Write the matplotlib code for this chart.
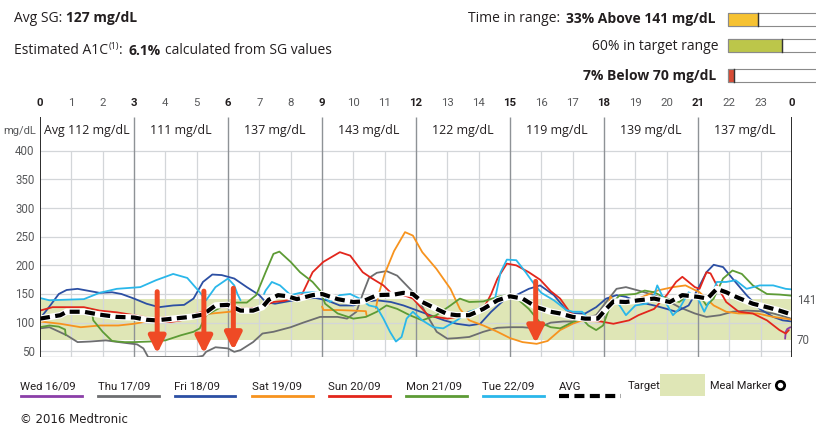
import numpy as np
import matplotlib
matplotlib.use("Agg")
import matplotlib.pyplot as plt
from matplotlib import font_manager as fm
from matplotlib.patches import Rectangle
from matplotlib.lines import Line2D

nan = np.nan

# ---------------- data ----------------
HOUR_LABELS = ["0", "1", "2", "3", "4", "5", "6", "7", "8", "9", "10", "11", "12",
               "13", "14", "15", "16", "17", "18", "19", "20", "21", "22", "23", "0"]
Y_TICKS = [50, 100, 150, 200, 250, 300, 350, 400]
BLOCK_LABELS = ["Avg 112 mg/dL", "111 mg/dL", "137 mg/dL", "143 mg/dL",
                "122 mg/dL", "119 mg/dL", "139 mg/dL", "137 mg/dL"]
TARGET_LOW, TARGET_HIGH = 70, 141

DAY_NAMES = ["Wed 16/09", "Thu 17/09", "Fri 18/09", "Sat 19/09",
             "Sun 20/09", "Mon 21/09", "Tue 22/09"]
DAY_COLORS = ["#8b3fa8", "#6d6e70", "#2c4fa3", "#f7931e", "#e2261c", "#5d9b35", "#2ab7ea"]

WED_H = [23.78, 23.8, 23.85, 23.95]
WED_V = [72, 84, 89, 92]

THU_H = [0, 0.3, 0.85, 1.2, 1.6, 2.1, 2.66, 3.1, 3.3, 3.45, 4.0, 4.5, 5.0, 5.2, 5.3,
         5.6, 6.0, 6.2, 6.4, 6.8, 7.1, 7.45, 8.0, 8.4, 8.94, 9.5, 9.8, 10.1, 10.3, 10.5,
         10.75, 11.06, 11.4, 11.7, 12.0, 12.35, 12.66, 13.0, 13.3, 13.7, 14.15, 14.6, 15.0,
         15.4, 15.85, 16.3, 16.7, 17.0, 17.3, 17.75, 18.07, 18.4, 18.7, 19.1, 19.6, 20.0,
         20.4, 20.9, 21.27, 21.7, 22.1, 22.55, 22.97, 23.4, 23.8, 24.0]
THU_V = [90, 92, 78, 66, 67, 69, 65, 62, 55, 40, 40, 40, 40, 42, 49,
         57, 55, 49, 52, 66, 81, 84, 92, 100, 110, 110, 107, 119, 150, 178,
         187, 190, 182, 165, 148, 113, 84, 72, 73, 75, 84, 91, 92,
         92, 90, 100, 102, 102, 107, 113, 136, 159, 162, 156, 148, 139,
         127, 116, 110, 113, 119, 121, 120, 116, 110, 107]

FRI_H = [0, 0.3, 0.6, 0.85, 1.2, 1.5, 1.9, 2.3, 2.6, 3.0, 3.4, 3.8, 4.25, 4.6, 4.9,
         5.2, 5.5, 5.8, 6.2, 6.6, 7.0, 7.2, 7.5, 7.8, 8.4, 8.8, 9.15, 9.57, 10.0, 10.3,
         10.75, 11.2, 11.6, 12.0, 12.45, 12.9, 13.3, 13.7, 14.05, 14.4, 14.8, 15.2, 15.6,
         15.96, 16.4, 16.8, 17.0, 17.4, 17.75, 18.07, 18.4, 18.7, 19.1, 19.6, 20.0, 20.3,
         20.7, 21.0, 21.27, 21.5, 21.8, 22.1, 22.55, 22.97, 23.4, 23.7, 24.0]
FRI_V = [107, 128, 150, 157, 159, 156, 152, 153, 150, 142, 133, 127, 130, 131, 142,
         171, 184, 183, 177, 162, 148, 136, 133, 136, 142, 143, 139, 130, 130, 136,
         139, 136, 130, 122, 113, 104, 98, 95, 98, 119, 139, 148, 159,
         165, 148, 122, 116, 116, 127, 142, 148, 145, 136, 130, 124, 119,
         130, 159, 188, 201, 197, 177, 148, 124, 110, 104, 102]

SAT_H = [0, 0.65, 1.3, 1.9, 2.5, 3.0, 3.4, 4.0, 4.7, 5.1, 5.5, 6.06, 6.25, nan,
         9.0, 9.05, 9.5, 10.0, 10.4, 10.42, nan,
         10.72, 10.8, 11.0, 11.3, 11.65, 11.9, 12.2, 12.65, 13.1, 13.4, 13.7, 14.15, 14.6,
         15.0, 15.4, 15.85, 16.2, 16.6, 17.0, 17.3, 17.9, 18.15, 18.2, 18.3, 18.7, 19.1,
         19.7, 20.2, 20.6, 21.05, 21.5, 21.9, 22.3, 22.9, 23.4, 23.8, 24.0]
SAT_V = [102, 98, 92, 95, 95, 98, 102, 110, 110, 113, 116, 119, 121, nan,
         128, 122, 122, 121, 120, 113, nan,
         125, 148, 185, 225, 258, 252, 223, 194, 159, 124, 104, 95, 84,
         73, 66, 63, 68, 87, 98, 104, 113, 125, 146, 140, 138, 142,
         156, 162, 165, 153, 130, 119, 116, 116, 110, 107, 105]

SUN_H = [0, 0.4, 1.4, 1.9, 2.45, 3.0, 3.3, 3.7, 4.15, 4.5, 4.8, 5.2, 5.5, 6.0, 6.6,
         7.0, 7.45, 7.8, 8.35, 8.7, 9.04, 9.57, 9.9, 10.3, 10.6, 10.96, 11.2, 11.5, 11.9,
         12.4, 13.0, 13.3, 13.7, 14.15, 14.4, 14.6, 14.9, 15.2, 15.6, 15.96, 16.3, 16.6,
         16.9, 17.3, 17.9, 18.3, 18.8, 19.1, 19.6, 20.0, 20.3, 20.5, 20.9, 21.05, 21.27,
         21.4, 21.6, 21.9, 22.3, 22.75, 23.2, 23.6, 23.8, 23.9]
SUN_V = [121, 127, 127, 121, 118, 113, 110, 104, 101, 104, 113, 119, 127, 127, 124,
         127, 136, 138, 148, 188, 206, 223, 217, 188, 177, 165, 152, 150, 142,
         112, 107, 110, 119, 124, 150, 177, 203, 200, 188, 175, 155, 142,
         119, 104, 102, 98, 104, 113, 124, 148, 171, 180, 162, 159, 188,
         186, 165, 136, 119, 116, 104, 87, 81, 87]

MON_H = [0, 0.3, 0.6, 0.8, 0.82, nan,
         1.65, 1.7, 2.0, 2.3, 2.7, 3.0, 3.5, 4.0, 4.5, 4.9, 5.1, 5.3, 5.6, 6.0, 6.2, 6.6,
         6.9, 7.2, 7.45, 7.64, 8.0, 8.3, 8.7, 8.94, 9.1, 9.5, 10.0, 10.4, 10.75, 11.06,
         11.4, 11.8, 12.2, 12.65, 13.1, 13.4, 13.7, 14.15, 14.6, 14.9, 15.2, 15.6, 15.96,
         16.3, 16.6, 17.0, 17.3, 17.5, 17.75, 17.97, 18.2, 18.5, 19.0, 19.3, 19.6, 20.0,
         20.4, 20.7, 21.05, 21.27, 21.5, 21.8, 22.1, 22.4, 22.75, 23.2, 23.6, 24.0]
MON_V = [92, 95, 93, 88, 78, nan,
         122, 104, 84, 68, 66, 66, 67, 69, 78, 84, 90, 113, 122, 133, 135, 135,
         148, 188, 220, 224, 206, 188, 171, 156, 133, 116, 107, 110, 119, 130,
         124, 113, 104, 113, 130, 142, 136, 137, 145, 148, 143, 124, 100,
         92, 90, 101, 107, 95, 87, 95, 130, 148, 150, 156, 153, 142,
         136, 148, 148, 130, 142, 177, 191, 185, 165, 150, 149, 147]

TUE_H = [0, 0.3, 0.8, 1.4, 1.9, 2.45, 3.2, 3.7, 4.25, 4.7, 5.1, 5.3, 5.6, 6.0, 6.2,
         6.3, 6.4, nan,
         7.15, 7.2, 7.4, 7.66, 8.0, 8.3, 8.7, 8.94, 9.25, 9.57, 9.9, 10.2, 10.5, 10.75,
         10.96, 11.17, 11.36, 11.54, 11.7, 11.9, 12.2, 12.55, 12.87, 13.3, 13.7, 14.15,
         14.5, 14.7, 14.9, 15.2, 15.5, 15.8, 16.0, 16.4, 16.8, 17.0, 17.3, 17.5, 17.8,
         18.07, 18.3, 18.5, 18.7, 19.0, 19.35, 19.6, 19.7, 19.9, 20.2, 20.4, 20.7, 21.0,
         21.2, 21.4, 21.6, 21.9, 22.2, 22.55, 22.97, 23.4, 23.8, 24.0]
TUE_V = [143, 139, 140, 141, 152, 159, 162, 174, 185, 178, 153, 139, 162, 177, 165,
         150, 139, nan,
         150, 156, 171, 165, 148, 152, 153, 152, 136, 148, 150, 142, 130, 127,
         107, 84, 67, 75, 107, 119, 104, 92, 90, 104, 119, 127,
         136, 188, 210, 209, 188, 165, 152, 139, 122, 119, 119, 107, 104,
         124, 142, 130, 113, 130, 133, 148, 165, 142, 113, 124, 153, 142,
         119, 142, 171, 171, 174, 159, 165, 165, 159, 158]

AVG_H = [0, 0.65, 0.85, 1.4, 1.9, 2.45, 3.0, 3.4, 3.7, 4.25, 4.8, 5.2, 5.6, 6.0, 6.4,
         6.8, 7.1, 7.3, 7.6, 7.9, 8.2, 8.7, 9.0, 9.5, 10.0, 10.3, 10.75, 11.3, 11.6, 11.9,
         12.2, 12.65, 13.0, 13.3, 13.7, 14.15, 14.6, 15.0, 15.4, 15.85, 16.3, 16.6, 17.0,
         17.4, 17.8, 18.07, 18.3, 18.7, 19.1, 19.6, 20.1, 20.5, 21.0, 21.3, 21.6, 21.9,
         22.3, 22.75, 23.2, 23.6, 24.0]
AVG_V = [107, 113, 119, 119, 114, 110, 109, 105, 104, 107, 110, 114, 130, 131, 121,
         121, 127, 140, 148, 146, 141, 148, 150, 141, 136, 137, 148, 149, 152, 150,
         136, 124, 115, 113, 113, 124, 139, 146, 142, 127, 119, 116, 110,
         107, 107, 124, 137, 136, 139, 142, 136, 148, 145, 142, 159, 153,
         143, 133, 127, 121, 114]

ARROW_H = [3.74, 5.23, 6.17, 15.82]
ARROW_TOP = [154, 155, 160, 172]
ARROW_TIP = [46, 46, 52, 64]

TIR_PCTS = [33, 60, 7]
TIR_COLORS = ["#f6c232", "#bcc64a", "#d74b35"]

# ---------------- fonts / helpers ----------------
W, H = 816, 427
names = {f.name for f in fm.fontManager.ttflist}
NARROW = [n for n in ["Liberation Sans Narrow", "Roboto", "DejaVu Sans"] if n in names][0]
HUMAN = [n for n in ["Open Sans", "Lato", "DejaVu Sans"] if n in names][0]

fig = plt.figure(figsize=(W / 100, H / 100), dpi=100)
fig.patch.set_facecolor("white")
renderer = fig.canvas.get_renderer()


def fx(x):
    return x / W


def fy(y):
    return 1 - y / H


def chain(x, y, parts):
    cur = x
    for s, kw in parts:
        kw = dict(kw)
        dy = kw.pop("dy", 0)
        gap = kw.pop("gap", 0)
        cur += gap
        t = fig.text(fx(cur), fy(y - dy), s, ha="left", va="center", **kw)
        cur += t.get_window_extent(renderer=renderer).width
    return cur


TXT = "#231f20"
GRAYTXT = "#58595b"

# ---------------- main axes ----------------
Y0, Y1 = 40, 459
ax = fig.add_axes([fx(40), fy(358), (792 - 40) / W, (358 - 118) / H])
ax.set_xlim(0, 24)
ax.set_ylim(Y0, Y1)
ax.axis("off")

ax.axhspan(TARGET_LOW, TARGET_HIGH, color="#dfe6b6", zorder=0.5, lw=0)
for v in Y_TICKS:
    ax.hlines(v, 0, 24, color="#d3d6d9", lw=0.9, zorder=1)
ax.hlines(Y0 + 0.3, 0, 24, color="#b8bbbe", lw=1.0, zorder=1)
for h in range(25):
    if h in (0, 24):
        ax.vlines(h, Y0, Y1, color="#1a1a1a", lw=1.3, zorder=6)
    elif h % 3 == 0:
        ax.vlines(h, Y0, Y1, color="#8e9296", lw=1.0, zorder=1.2)
    else:
        ax.vlines(h, Y0, 400, color="#d3d6d9", lw=0.9, zorder=1)

series = [(WED_H, WED_V), (THU_H, THU_V), (FRI_H, FRI_V), (SAT_H, SAT_V),
          (SUN_H, SUN_V), (MON_H, MON_V), (TUE_H, TUE_V)]
order = [1, 6, 5, 3, 4, 2, 0]
for i in order:
    hh, vv = series[i]
    ax.plot(hh, vv, color=DAY_COLORS[i], lw=1.3, zorder=3 + i * 0.01,
            solid_joinstyle="round", solid_capstyle="round")

ax.plot(AVG_H, AVG_V, color="white", lw=4.6, zorder=4, solid_capstyle="butt")
ax.plot(AVG_H, AVG_V, color="black", lw=3.0, zorder=4.1, dashes=(2.4, 1.3),
        dash_capstyle="butt")

for h, top, tip in zip(ARROW_H, ARROW_TOP, ARROW_TIP):
    ax.annotate("", xy=(h, tip), xytext=(h, top),
                arrowprops=dict(arrowstyle="-|>,head_width=0.5,head_length=1.0",
                                lw=3.6, color="#ef4a25", shrinkA=0, shrinkB=0,
                                mutation_scale=10),
                zorder=5)

# y tick labels and right-side target labels
for v in Y_TICKS:
    ax.text(-0.17, v, str(v), ha="right", va="center", fontsize=8.3,
            family=NARROW, color=GRAYTXT)
ax.text(24.15, TARGET_HIGH, str(TARGET_HIGH), ha="left", va="center", fontsize=8.3,
        family=NARROW, color=GRAYTXT)
ax.text(24.15, TARGET_LOW, str(TARGET_LOW), ha="left", va="center", fontsize=8.3,
        family=NARROW, color=GRAYTXT)

# header band: unit + block averages
fig.text(fx(36), fy(131), "mg/dL", ha="right", va="center", fontsize=8,
         family=NARROW, color=GRAYTXT)
for k, lab in enumerate(BLOCK_LABELS):
    ax.text(3 * k + 1.5, 438, lab, ha="center", va="center", fontsize=8.9,
            family=HUMAN, color=TXT)

# top hour labels
for h, lab in enumerate(HOUR_LABELS):
    bold = (h % 3 == 0)
    x = 40 + h * (752 / 24)
    fig.text(fx(x), fy(103), lab, ha="center", va="center", fontsize=8.2,
             family=NARROW, color=TXT if bold else GRAYTXT,
             weight="bold" if bold else "normal")

# ---------------- top texts ----------------
chain(14, 18, [("Avg SG:", dict(fontsize=10, family=HUMAN, color=TXT)),
               ("127 mg/dL", dict(fontsize=10, family=HUMAN, color=TXT,
                                  weight="bold", gap=4))])
chain(14, 51, [("Estimated A1C", dict(fontsize=10, family=HUMAN, color=TXT)),
               ("(1)", dict(fontsize=6.5, family=HUMAN, color=TXT, dy=5, gap=1)),
               (":", dict(fontsize=10, family=HUMAN, color=TXT)),
               ("6.1%", dict(fontsize=10, family=HUMAN, color=TXT, weight="bold", gap=5)),
               ("calculated from SG values", dict(fontsize=10, family=HUMAN,
                                                  color=TXT, gap=5))])

tb = fig.text(fx(716), fy(19), "33% Above 141 mg/dL", ha="right", va="center",
              fontsize=10, family=HUMAN, color=TXT, weight="bold")
left = fx(716) - tb.get_window_extent(renderer=renderer).width / W
fig.text(left - 6 / W, fy(19), "Time in range:", ha="right", va="center",
         fontsize=10, family=HUMAN, color=TXT)
fig.text(fx(718), fy(46), "60% in target range", ha="right", va="center",
         fontsize=10, family=HUMAN, color=TXT)
fig.text(fx(716), fy(76), "7% Below 70 mg/dL", ha="right", va="center",
         fontsize=10, family=HUMAN, color=TXT, weight="bold")

BAR_X0, BAR_W = 728, 90
for pct, col, (yt, yb) in zip(TIR_PCTS, TIR_COLORS, [(13.5, 27), (40, 53), (70, 83)]):
    hgt = (yb - yt) / H
    fig.add_artist(Rectangle((fx(BAR_X0), fy(yb)), BAR_W / W, hgt,
                             transform=fig.transFigure, facecolor="white",
                             edgecolor="#8a8a8a", lw=0.8))
    wfill = BAR_W * pct / 100
    fig.add_artist(Rectangle((fx(BAR_X0), fy(yb)), wfill / W, hgt,
                             transform=fig.transFigure, facecolor=col,
                             edgecolor="#8a8a8a", lw=0.8))
    fig.add_artist(Line2D([fx(BAR_X0 + wfill)] * 2, [fy(yb), fy(yt)],
                          transform=fig.transFigure, color="#333333", lw=1.0))

# ---------------- legend ----------------
LEG_FS = 8.2
LEG_X = [20.5, 97.5, 174.5, 251.5, 328.5, 405.5, 482.5]
for x, name, col in zip(LEG_X, DAY_NAMES, DAY_COLORS):
    fig.text(fx(x), fy(387), name, ha="left", va="center", fontsize=LEG_FS,
             family=NARROW, color=TXT)
    fig.add_artist(Line2D([fx(x), fx(x + 61)], [fy(397), fy(397)],
                          transform=fig.transFigure, color=col, lw=2.0))
fig.text(fx(559), fy(387), "AVG", ha="left", va="center", fontsize=LEG_FS,
         family=NARROW, color=TXT)
fig.add_artist(Line2D([fx(559), fx(621)], [fy(397), fy(397)],
                      transform=fig.transFigure, color="black", lw=3.0,
                      dashes=(2.4, 1.3), dash_capstyle="butt"))
fig.text(fx(628), fy(386), "Target", ha="left", va="center", fontsize=LEG_FS,
         family=NARROW, color=TXT)
fig.add_artist(Rectangle((fx(660), fy(397)), 45 / W, 22 / H,
                         transform=fig.transFigure, facecolor="#dfe6b6", lw=0))
mm = fig.text(fx(710), fy(386), "Meal Marker", ha="left", va="center", fontsize=7.9,
              family=NARROW, color=TXT)
mm_end = 710 + mm.get_window_extent(renderer=renderer).width
fig.add_artist(Line2D([fx(max(777, mm_end + 9))], [fy(385.5)], transform=fig.transFigure,
                      marker="o", markersize=6, markerfacecolor="white",
                      markeredgecolor="black", markeredgewidth=2.0, lw=0))

fig.text(fx(20), fy(420), "\u00a9 2016 Medtronic", ha="left", va="center",
         fontsize=8.5, family="DejaVu Sans", color=TXT)

fig.savefig("out.png", dpi=100, facecolor="white")
